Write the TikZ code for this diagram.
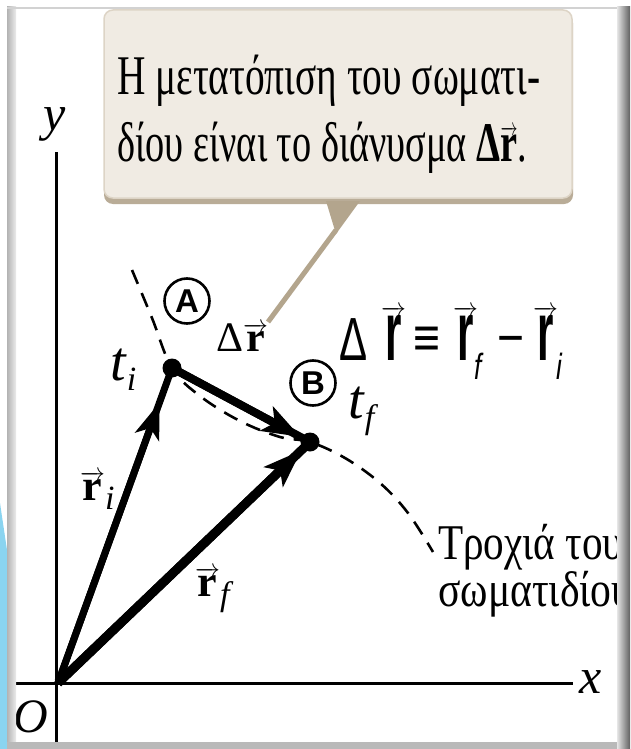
\documentclass[tikz,border=0pt]{standalone}
\usepackage{fontspec}
\usepackage{graphicx}
\setmainfont{Liberation Serif}
\setsansfont{Liberation Sans}
\newfontfamily\boxfont{Liberation Serif}
\usetikzlibrary{arrows.meta,calc}
\definecolor{boxfill}{HTML}{F0EBE3}
\definecolor{boxedge}{HTML}{DDD4C6}
\definecolor{boxshadow}{HTML}{B9AC97}
\definecolor{tailcol}{HTML}{B3A58D}
\definecolor{skyblue}{HTML}{8AD4F0}
\newcommand\vecr{\ensuremath{\overrightarrow{\textbf{r}}}}
\newcommand\svecr{\ensuremath{\overrightarrow{\scalebox{1}[2.0]{\textsf{\textbf{r}}}}}}
\newcommand\lowsub[2]{\raisebox{-#1}{\fontsize{34}{34}\selectfont\textit{#2}}}
\begin{document}
\begin{tikzpicture}[x=1pt,y=-1pt,
  boxtxt/.style={font=\boxfont\fontsize{56}{60}\selectfont, inner sep=0pt},
  lbl/.style={font=\fontsize{46}{50}\selectfont, inner sep=0pt},
  trtxt/.style={font=\boxfont\fontsize{50}{54}\selectfont, inner sep=0pt},
  fml/.style={font=\sffamily\fontsize{42}{44}\selectfont, inner sep=0pt},
  fsub/.style={font=\sffamily\itshape\fontsize{26}{28}\selectfont, inner sep=0pt},
  dotnode/.style={circle, fill=black, minimum size=19pt, inner sep=0pt},
  circlab/.style={circle, draw=black, line width=2.6pt, minimum size=45pt, inner sep=0pt,
     font=\sffamily\bfseries\fontsize{33}{33}\selectfont},
  axis/.style={line width=3pt, black},
  trajectory/.style={line width=2.6pt, dash pattern=on 15pt off 10pt},
]
\useasboundingbox (0,0) rectangle (630,749);
\fill[white] (0,0) rectangle (630,749);
% outside sky-blue wedge
\fill[skyblue] (0,503) -- (7,550) -- (7,749) -- (0,749) -- cycle;
% callout box
\fill[boxshadow, rounded corners=9pt] (104,14) rectangle (573,204);
\filldraw[fill=boxfill, draw=boxedge, line width=1.5pt, rounded corners=9pt] (104,10) rectangle (572,198);
\fill[tailcol] (326,201) -- (360,201) -- (336,234) -- cycle;
\coordinate (tailtip) at (336,230);
\coordinate (tailend) at (268,322);
\draw[tailcol, line width=5pt] (tailtip) -- (tailend);
\node[boxtxt, anchor=base west] (t1) at (117,95) {\resizebox{423pt}{\height}{Η μετατόπιση του σωματι-}};
\node[boxtxt, anchor=base west] (t2) at (117,161) {\resizebox{410pt}{\height}{δίου είναι το διάνυσμα \textbf{Δ}\vecr.}};
% axes
\coordinate (O) at (58,683);
\coordinate (ytop) at (56,152);
\coordinate (ybot) at (56,742);
\coordinate (xleft) at (7,683);
\coordinate (xright) at (573,683);
\draw[axis] (ytop) -- (ybot);
\draw[axis] (xleft) -- (xright);
\node[lbl, font=\itshape\fontsize{50}{50}\selectfont] (ylab) at (55,124) {y};
\node[lbl, font=\itshape\fontsize{50}{50}\selectfont] (xlab) at (591,682) {x};
\node[lbl, font=\itshape\fontsize{48}{50}\selectfont] (olab) at (31,717) {O};
% trajectory
\draw[trajectory] plot[smooth, tension=0.6] coordinates {(132,270) (152,318) (172,368) (200,396) (240,421) (280,437) (310,442) (345,458) (380,483) (408,513) (433,552)};
% points
\node[dotnode] (A) at (172,368) {};
\node[dotnode] (B) at (310,442) {};
% vectors
\draw[line width=7pt] (O) -- (A.center);
\draw[line width=7pt, -{Stealth[length=36pt,width=25pt,inset=9pt]}] (O) -- ($(O)!0.89!(A.center)$);
\draw[line width=9pt] (O) -- (B.center);
\draw[line width=9pt, -{Stealth[length=38pt,width=27pt,inset=9pt]}] (O) -- ($(O)!0.965!(B.center)$);
\draw[line width=8pt] (A.center) -- (B.center);
\draw[line width=8pt, -{Stealth[length=38pt,width=27pt,inset=9pt]}] (A.center) -- ($(A.center)!0.93!(B.center)$);
% circled letters
\node[circlab] (cA) at (187,301) {A};
\node[circlab] (cB) at (313,383) {B};
% labels
\node[lbl, font=\fontsize{56}{56}\selectfont, anchor=base west] (ti) at (110,380) {\textit{t}\lowsub{10pt}{i}};
\node[lbl, font=\fontsize{56}{56}\selectfont, anchor=base west] (tf) at (348,418) {\textit{t}\lowsub{10pt}{f}};
\node[lbl, font=\fontsize{42}{44}\selectfont, anchor=base west] (dr) at (216,351) {Δ\vecr};
\node[lbl, font=\fontsize{44}{46}\selectfont, anchor=base west] (ri) at (80,500) {\vecr\lowsub{9pt}{i}};
\node[lbl, font=\fontsize{44}{46}\selectfont, anchor=base west] (rf) at (195,596) {\vecr\lowsub{9pt}{f}};
% formula
\node[fml, anchor=base west] (fD) at (339,360) {\scalebox{1}[1.45]{Δ}};
\node[fml, anchor=base west] (fr1) at (381,360) {\svecr};
\node[fml, anchor=base] (feq) at (427,356) {\scalebox{1.1}[1.3]{≡}};
\node[fml, anchor=base west] (fr2) at (453,360) {\svecr};
\node[fsub, anchor=base west] (ff) at (474,379) {\scalebox{1}[1.4]{f}};
\node[fml, anchor=base] (fmin) at (511,356) {\scalebox{1.1}[1.3]{−}};
\node[fml, anchor=base west] (fr3) at (533,360) {\svecr};
\node[fsub, anchor=base west] (fi) at (556,379) {\scalebox{1}[1.4]{i}};
% trajectory text
\node[trtxt, anchor=base west] (tr1) at (438,559) {\resizebox{185pt}{\height}{Τροχιά του}};
\node[trtxt, anchor=base west] (tr2) at (438,606) {\resizebox{194pt}{\height}{σωματιδίου}};
% frame
\shade[left color=gray!60, right color=gray!15] (7,7) rectangle (16,745);
\fill[gray!35] (7,7) rectangle (622,9);
\shade[left color=gray!20, right color=gray!75!black] (617,7) rectangle (630,749);
\fill[gray!55] (7,742) rectangle (617,749);
\end{tikzpicture}
\end{document}
